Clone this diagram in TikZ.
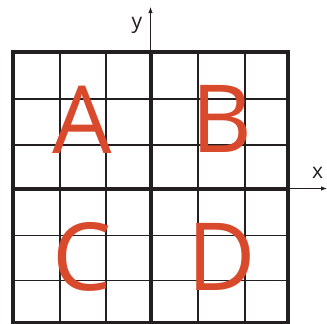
\documentclass[tikz,border=0pt]{standalone}
\usepackage{fontspec}
\setmainfont{Open Sans}
\usetikzlibrary{arrows.meta}
\definecolor{ink}{RGB}{35,31,32}
\definecolor{quadred}{RGB}{216,74,43}
\tikzset{
  thinline/.style={draw=ink, line width=1.3pt},
  thickline/.style={draw=ink, line width=4pt},
  axisline/.style={draw=ink, line width=1pt, -{Latex[length=6pt,width=4.5pt]}},
  quadlabel/.style={text=quadred, font=\fontsize{94}{94}\selectfont, anchor=base, inner sep=0pt},
  axislabel/.style={text=ink, font=\fontsize{21}{21}\selectfont, anchor=base, inner sep=0pt}
}
\begin{document}
\begin{tikzpicture}[x=1pt,y=-1pt]
\useasboundingbox (0,0) rectangle (327,324);
% thin grid lines
\foreach \gx in {60,106,198,245} \draw[thinline] (\gx,52.3) -- (\gx,323);
\foreach \gy in {99,145,235.7,280.7} \draw[thinline] (13,\gy) -- (287.5,\gy);
% thick axes inside grid
\draw[thickline] (150.5,52.3) -- (150.5,323);
\draw[thickline] (13,188.5) -- (287.5,188.5);
% border
\draw[thickline] (13,52.3) rectangle (287.5,322.5);
% axis extensions
\coordinate (ybase) at (150.5,52.3);
\coordinate (ytip) at (150.5,7);
\coordinate (xbase) at (287.5,188.5);
\coordinate (xtip) at (327,188.5);
\draw[axisline] (ybase) -- (ytip);
\draw[axisline] (xbase) -- (xtip);
\node[axislabel] (ylab) at (137,28) {y};
\node[axislabel] (xlab) at (317.5,178.3) {x};
% quadrant letters
\node[quadlabel] (A) at (82.5,153) {A};
\node[quadlabel] (B) at (221.5,152) {B};
\node[quadlabel] (C) at (82.5,290) {C};
\node[quadlabel] (D) at (221.5,290) {D};
\end{tikzpicture}
\end{document}
